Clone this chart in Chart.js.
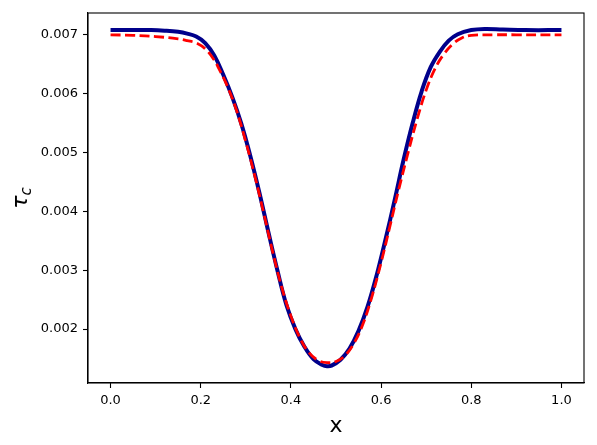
<!DOCTYPE html>
<html>
<head>
<meta charset="utf-8">
<script src="https://cdn.jsdelivr.net/npm/chart.js@4"></script>
<style>
  body { margin: 0; background: #fff; }
</style>
</head>
<body>
<canvas id="myChart" width="597" height="445"></canvas>
<script>
// solid navy curve
const xBlue = [0.00, 0.05, 0.09, 0.12, 0.15, 0.17, 0.19, 0.21, 0.23, 0.25, 0.27, 0.29, 0.31, 0.33, 0.35, 0.37, 0.39, 0.41, 0.43, 0.45, 0.47, 0.48, 0.49, 0.51, 0.53, 0.55, 0.57, 0.59, 0.61, 0.63, 0.65, 0.67, 0.69, 0.71, 0.73, 0.75, 0.77, 0.80, 0.83, 0.87, 0.92, 1.00];
const yBlue = [0.00708, 0.00708, 0.00708, 0.00707, 0.00705, 0.00702, 0.00697, 0.00686, 0.00665, 0.00632, 0.00594, 0.00549, 0.00494, 0.00432, 0.00365, 0.00300, 0.00241, 0.00200, 0.00170, 0.00149, 0.00139, 0.00137, 0.00138, 0.00148, 0.00167, 0.00197, 0.00238, 0.00291, 0.00353, 0.00419, 0.00488, 0.00550, 0.00604, 0.00645, 0.00671, 0.00690, 0.00701, 0.00708, 0.00710, 0.00709, 0.00708, 0.00708];

// red dashed curve
const xRed = [0.00, 0.05, 0.10, 0.15, 0.17, 0.19, 0.21, 0.23, 0.24, 0.26, 0.28, 0.30, 0.32, 0.34, 0.36, 0.38, 0.40, 0.42, 0.44, 0.46, 0.48, 0.50, 0.52, 0.54, 0.56, 0.58, 0.60, 0.62, 0.64, 0.66, 0.68, 0.70, 0.72, 0.74, 0.76, 0.78, 0.80, 0.85, 0.90, 1.00];
const yRed = [0.00700, 0.00699, 0.00697, 0.00693, 0.00690, 0.00686, 0.00676, 0.00657, 0.00643, 0.00611, 0.00570, 0.00518, 0.00460, 0.00396, 0.00330, 0.00270, 0.00222, 0.00185, 0.00160, 0.00147, 0.00143, 0.00145, 0.00155, 0.00176, 0.00209, 0.00256, 0.00313, 0.00376, 0.00440, 0.00500, 0.00557, 0.00606, 0.00643, 0.00668, 0.00685, 0.00695, 0.00699, 0.00700, 0.00700, 0.00700];

const xTicks = [0.0, 0.2, 0.4, 0.6, 0.8, 1.0];
const yTicks = [0.002, 0.003, 0.004, 0.005, 0.006, 0.007];

const toPoints = (xs, ys) => xs.map((x, i) => ({x: x, y: ys[i]}));

const font = 'DejaVu Sans';

// top/right spines + the tau_c axis label
const frame = {
  id: 'frame',
  afterDraw(chart) {
    const {ctx, chartArea: {top, bottom, left, right}} = chart;
    ctx.save();
    ctx.strokeStyle = '#000';
    ctx.lineWidth = 1.1;
    ctx.strokeRect(left, top, right - left, bottom - top);

    ctx.translate(28, (top + bottom) / 2);
    ctx.rotate(-Math.PI / 2);
    ctx.fillStyle = '#000';
    ctx.textBaseline = 'alphabetic';
    ctx.font = 'italic 22px "' + font + '"';
    const w1 = ctx.measureText('τ').width;
    ctx.font = 'italic 15px "' + font + '"';
    const w2 = ctx.measureText('c').width;
    const x0 = -(w1 + w2) / 2;
    ctx.font = 'italic 22px "' + font + '"';
    ctx.fillText('τ', x0, -1);
    ctx.font = 'italic 15px "' + font + '"';
    ctx.fillText('c', x0 + w1, 3);
    ctx.restore();
  }
};

const data = {
  datasets: [
    {
      label: 'red',
      data: toPoints(xRed, yRed),
      borderColor: '#ff0000',
      borderWidth: 2.8,
      borderDash: [10, 4.5],
      pointRadius: 0,
      tension: 0.4,
      fill: false
    },
    {
      label: 'navy',
      data: toPoints(xBlue, yBlue),
      borderColor: '#00008b',
      borderWidth: 4,
      pointRadius: 0,
      tension: 0.4,
      fill: false
    }
  ]
};

const config = {
  type: 'line',
  data,
  options: {
    responsive: false,
    animation: false,
    layout: { padding: { top: 13, right: 13, left: 0, bottom: 0 } },
    plugins: { legend: { display: false }, tooltip: { enabled: false } },
    scales: {
      x: {
        type: 'linear',
        min: -0.05,
        max: 1.05,
        afterBuildTicks: (s) => { s.ticks = xTicks.map(v => ({value: v})); },
        afterFit: (s) => { s.height = 62; },
        border: { color: '#000', width: 1.1 },
        grid: { drawOnChartArea: false, tickLength: 5, tickColor: '#000', tickWidth: 1.1 },
        ticks: {
          color: '#000',
          padding: 5,
          maxRotation: 0,
          font: { family: font, size: 13 },
          callback: (v) => v.toFixed(1)
        },
        title: {
          display: true,
          text: 'x',
          color: '#000',
          font: { family: font, size: 22 },
          padding: { top: 0, bottom: 6 }
        }
      },
      y: {
        type: 'linear',
        min: 0.001084,
        max: 0.00737,
        afterBuildTicks: (s) => { s.ticks = yTicks.map(v => ({value: v})); },
        afterFit: (s) => { s.width = 88; },
        border: { color: '#000', width: 1.1 },
        grid: { drawOnChartArea: false, tickLength: 5, tickColor: '#000', tickWidth: 1.1 },
        ticks: {
          color: '#000',
          padding: 5,
          font: { family: font, size: 13 },
          callback: (v) => v.toFixed(3)
        }
      }
    }
  },
  plugins: [frame]
};

const myChart = new Chart(document.getElementById('myChart'), config);
</script>
</body>
</html>
